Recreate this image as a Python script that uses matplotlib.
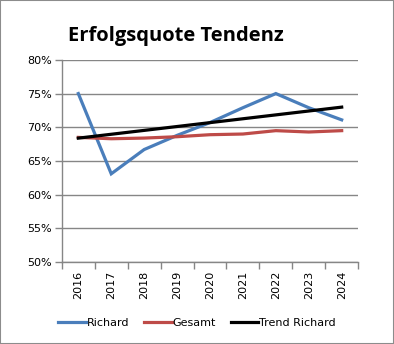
import matplotlib
matplotlib.use("Agg")
import matplotlib.pyplot as plt
import numpy as np
from matplotlib.patches import Rectangle

years = ["2016", "2017", "2018", "2019", "2020", "2021", "2022", "2023", "2024"]
richard = [75.0, 63.1, 66.7, 68.8, 70.7, 72.9, 75.0, 72.9, 71.1]
gesamt = [68.5, 68.3, 68.4, 68.6, 68.9, 69.0, 69.5, 69.3, 69.5]
yticks = [50, 55, 60, 65, 70, 75, 80]

x = np.arange(len(years))
coef = np.polyfit(x, richard, 1)
trend = np.polyval(coef, x)

fig = plt.figure(figsize=(3.94, 3.44), dpi=100)
fig.patches.append(Rectangle((0, 0), 1, 1, transform=fig.transFigure, fill=False,
                             edgecolor="#8c8c8c", linewidth=1.5, zorder=10))
ax = fig.add_axes([0.157, 0.238, 0.752, 0.588])

ax.plot(x, richard, color="#4A7EBB", lw=2.3, label="Richard", solid_joinstyle="miter")
ax.plot(x, gesamt, color="#BE4B48", lw=2.3, label="Gesamt")
ax.plot(x, trend, color="black", lw=2.3, label="Trend Richard")

ax.set_xlim(-0.5, len(years) - 0.5)
ax.set_ylim(50, 80)
ax.set_yticks(yticks)
ax.set_yticklabels([f"{v}%" for v in yticks], fontsize=8)
ax.set_xticks(x)
ax.set_xticklabels(years, rotation=90, fontsize=8)
ax.set_xticks(np.arange(-0.5, len(years)), minor=True)
ax.tick_params(axis="x", which="major", length=0, pad=6)
ax.tick_params(axis="x", which="minor", length=5, color="#868686", width=1)
ax.tick_params(axis="y", length=5, color="#868686", width=1, pad=2)
ax.grid(axis="y", color="#868686", lw=1)
ax.set_axisbelow(True)
for s in ["top", "right"]:
    ax.spines[s].set_visible(False)
for s in ["left", "bottom"]:
    ax.spines[s].set_color("#868686")
    ax.spines[s].set_linewidth(1)

fig.text(0.173, 0.895, "Erfolgsquote Tendenz", fontsize=14.5, fontweight="bold",
         family="Open Sans", va="center", ha="left")

fig.legend(loc="center", bbox_to_anchor=(0.5, 0.061), ncol=3, frameon=False,
           fontsize=8, handlelength=2.5, handletextpad=0.1, columnspacing=1.3)

fig.savefig("out.png", dpi=100)
